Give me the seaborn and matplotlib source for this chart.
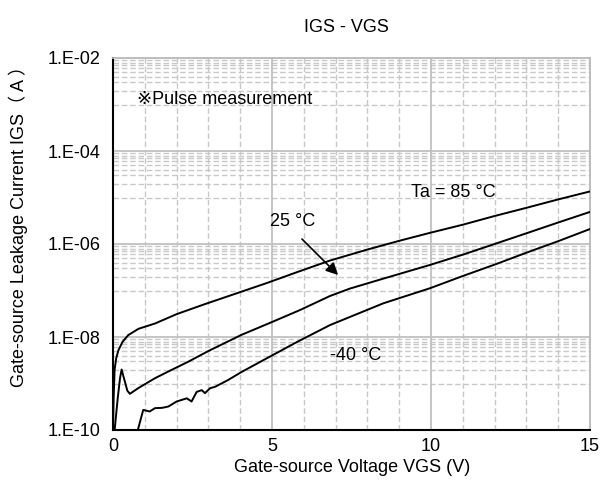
import numpy as np
import pandas as pd
import matplotlib
matplotlib.use('Agg')
import matplotlib.pyplot as plt
import matplotlib.ticker as mticker
import seaborn as sns

# values
vgs_85 = [0.0, 0.02, 0.05, 0.1, 0.17, 0.3, 0.48, 0.8, 1.32, 2.0, 2.89, 3.8, 4.84, 5.8,
          6.82, 8.0, 9.0, 9.97, 11.0, 12.0, 13.0, 14.0, 15.0]
igs_85 = [1e-10, 5.0e-10, 2.0e-9, 3.5e-9, 5.2e-9, 7.9e-9, 1.1e-8, 1.5e-8, 1.95e-8, 3.1e-8,
          5.1e-8, 8.3e-8, 1.45e-7, 2.5e-7, 4.4e-7, 7.6e-7, 1.17e-6, 1.74e-6, 2.6e-6, 4.0e-6,
          6.0e-6, 9.1e-6, 1.35e-5]

vgs_25 = [0.05, 0.15, 0.22, 0.27, 0.35, 0.45, 0.53, 0.8, 1.32, 1.8, 2.37, 3.0, 4.05, 5.0,
          5.88, 6.82, 7.45, 8.5, 9.97, 11.0, 12.0, 13.0, 14.0, 15.0]
igs_25 = [1e-10, 5e-10, 1.3e-9, 2.0e-9, 1.25e-9, 7e-10, 6.0e-10, 8.0e-10, 1.3e-9, 1.9e-9,
          2.95e-9, 5.0e-9, 1.12e-8, 2.1e-8, 3.8e-8, 7.6e-8, 1.1e-7, 1.8e-7, 3.55e-7, 5.9e-7,
          1.0e-6, 1.7e-6, 2.9e-6, 4.9e-6]

vgs_m40 = [0.78, 0.88, 0.95, 1.05, 1.15, 1.32, 1.55, 1.74, 2.0, 2.32, 2.47, 2.63, 2.79, 2.89,
           3.05, 3.21, 3.6, 4.05, 4.84, 5.8, 6.82, 7.45, 8.5, 9.97, 11.0, 12.0, 13.0, 14.0, 15.0]
igs_m40 = [1e-10, 1.8e-10, 2.7e-10, 2.6e-10, 2.5e-10, 2.95e-10, 3.0e-10, 3.2e-10, 4.1e-10,
           4.8e-10, 4.1e-10, 6.6e-10, 7.2e-10, 6.2e-10, 7.9e-10, 8.5e-10, 1.17e-9, 1.78e-9,
           3.5e-9, 7.9e-9, 1.8e-8, 2.7e-8, 5.3e-8, 1.12e-7, 2.05e-7, 3.6e-7, 6.5e-7, 1.15e-6,
           2.1e-6]

y_major = [1e-10, 1e-8, 1e-6, 1e-4, 1e-2]
y_labels = ['1.E-10', '1.E-08', '1.E-06', '1.E-04', '1.E-02']
x_major = [0, 5, 10, 15]

df = pd.concat([
    pd.DataFrame({'vgs': vgs_85, 'igs': igs_85, 'temp': '85'}),
    pd.DataFrame({'vgs': vgs_25, 'igs': igs_25, 'temp': '25'}),
    pd.DataFrame({'vgs': vgs_m40, 'igs': igs_m40, 'temp': '-40'}),
])

sns.set_style('white')
plt.rcParams['font.family'] = ['Liberation Sans', 'DejaVu Sans', 'Noto Sans CJK JP']
plt.rcParams['font.size'] = 13
plt.rcParams['text.color'] = 'black'

fig = plt.figure(figsize=(6.09, 5.0), dpi=100)
ax = fig.add_axes([0.1856, 0.14, 0.7832, 0.744])

ax.set_yscale('log')
ax.set_xlim(0, 15)
ax.set_ylim(1e-10, 1e-2)

# minor horizontal lines: k * 10^(n+1) inside each two-decade span
minor_y = []
for base in [1e-9, 1e-7, 1e-5, 1e-3]:
    for k in range(1, 10):
        minor_y.append(k * base)
for v in minor_y:
    ax.axhline(v, color='#c8c8c8', lw=1.0, ls=(0, (4, 2)), zorder=0)
for v in y_major[1:-1]:
    ax.axhline(v, color='#c0c0c0', lw=1.3, zorder=0.5)
for v in range(1, 15):
    if v % 5:
        ax.axvline(v, color='#c8c8c8', lw=1.0, ls=(0, (4, 2)), zorder=0)
for v in x_major[1:-1]:
    ax.axvline(v, color='#c0c0c0', lw=1.3, zorder=0.5)

sns.lineplot(data=df, x='vgs', y='igs', hue='temp', palette=['black'] * 3,
             estimator=None, sort=False, legend=False, lw=1.4, ax=ax, zorder=3)

ax.yaxis.set_major_locator(mticker.FixedLocator(y_major))
ax.yaxis.set_major_formatter(mticker.FixedFormatter(y_labels))
ax.yaxis.set_minor_locator(mticker.NullLocator())
ax.xaxis.set_major_locator(mticker.FixedLocator(x_major))
ax.tick_params(axis='both', which='major', direction='in', length=4, width=1.2,
               labelsize=13, colors='black')
ax.tick_params(axis='y', pad=9)
ax.tick_params(axis='x', pad=6)

for side in ['left', 'bottom']:
    ax.spines[side].set_color('black')
    ax.spines[side].set_linewidth(1.5)
for side in ['top', 'right']:
    ax.spines[side].set_color('#b8b8b8')
    ax.spines[side].set_linewidth(1.3)

ax.set_xlabel('')
ax.set_ylabel('')
fig.text(352 / 609, 1 - 467 / 500, 'Gate-source Voltage VGS (V)', ha='center', va='center',
         fontsize=13)
fig.text(18 / 609, 1 - 222 / 500, 'Gate-source Leakage Current IGS（ A ）', ha='center',
         va='center', rotation=90, fontsize=13)
fig.text(346 / 609, 1 - 27 / 500, 'IGS - VGS', ha='center', va='center', fontsize=13)

# annotations
ax.text(0.75, 1.26e-3, '※Pulse measurement', ha='left', va='center', fontsize=13)
ax.text(10.7, 1.26e-5, 'Ta = 85 °C', ha='center', va='center', fontsize=13)
ax.text(5.66, 3.0e-6, '25 °C', ha='center', va='center', fontsize=13)
ax.text(6.82, 4.1e-9, '-40 °C', ha='left', va='center', fontsize=13)
ax.annotate('', xy=(7.14, 1.95e-7), xytext=(5.88, 1.41e-6),
            arrowprops=dict(arrowstyle='-|>', color='black', lw=1.2, mutation_scale=18))

plt.savefig('out.png', dpi=100)
